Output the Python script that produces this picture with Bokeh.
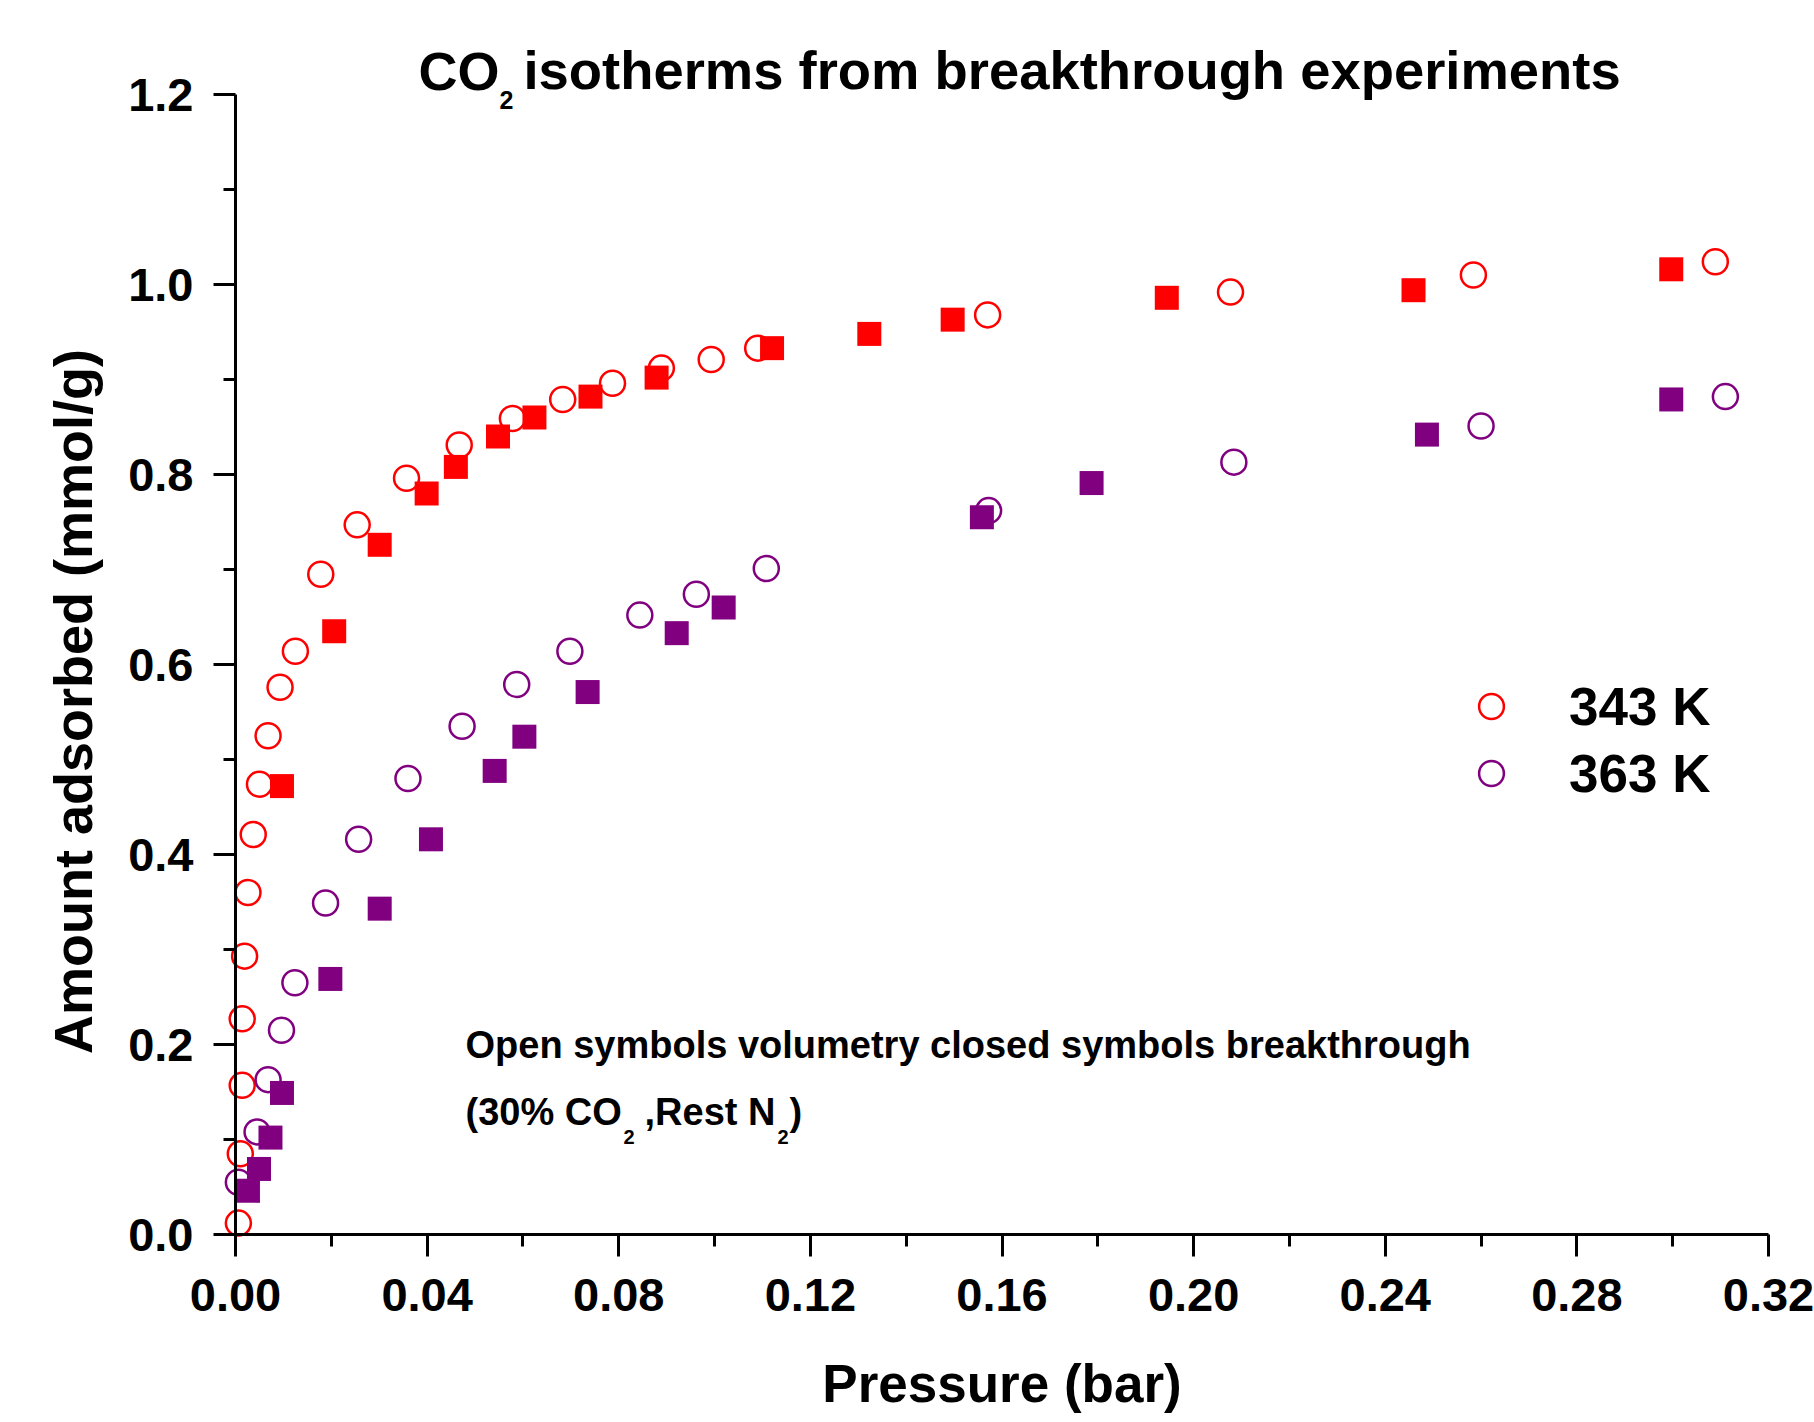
import numpy as np
from bokeh.plotting import figure
from bokeh.models import (Label, Legend, LegendItem, ColumnDataSource, Range1d,
                          FixedTicker, NumeralTickFormatter)
from bokeh.embed import file_html
from bokeh.resources import INLINE

# ---------------- data ----------------
# 343 K, open symbols: volumetry
p343_vol = [0.0006, 0.0010, 0.0014, 0.0014, 0.0019, 0.0026, 0.0037, 0.0050, 0.0068, 0.0093,
            0.0125, 0.0178, 0.0254, 0.0357, 0.0467, 0.0578, 0.0683, 0.0787, 0.0889, 0.0993,
            0.1090, 0.1570, 0.2077, 0.2584, 0.3089]
q343_vol = [0.012, 0.085, 0.157, 0.227, 0.293, 0.360, 0.421, 0.474, 0.525, 0.576,
            0.614, 0.695, 0.747, 0.796, 0.831, 0.859, 0.879, 0.896, 0.912, 0.921,
            0.933, 0.968, 0.992, 1.010, 1.024]
# 343 K, closed symbols: breakthrough
p343_bt = [0.0097, 0.0206, 0.0301, 0.0399, 0.0460, 0.0548, 0.0624, 0.0741, 0.0879, 0.1120,
           0.1323, 0.1497, 0.1944, 0.2459, 0.2997]
q343_bt = [0.472, 0.635, 0.726, 0.780, 0.808, 0.840, 0.860, 0.882, 0.902, 0.933,
           0.948, 0.963, 0.986, 0.994, 1.016]
# 363 K, open symbols: volumetry
p363_vol = [0.0006, 0.0045, 0.0068, 0.0096, 0.0124, 0.0188, 0.0257, 0.0360, 0.0473, 0.0587,
            0.0698, 0.0844, 0.0962, 0.1108, 0.1572, 0.2084, 0.2600, 0.3110]
q363_vol = [0.055, 0.108, 0.163, 0.215, 0.265, 0.349, 0.416, 0.480, 0.535, 0.579,
            0.614, 0.652, 0.674, 0.701, 0.762, 0.813, 0.851, 0.882]
# 363 K, closed symbols: breakthrough
p363_bt = [0.0026, 0.0049, 0.0073, 0.0097, 0.0198, 0.0301, 0.0408, 0.0541, 0.0603, 0.0735,
           0.0921, 0.1019, 0.1558, 0.1787, 0.2487, 0.2997]
q363_bt = [0.046, 0.069, 0.102, 0.149, 0.269, 0.343, 0.416, 0.488, 0.524, 0.571,
           0.633, 0.660, 0.755, 0.791, 0.842, 0.879]

series_labels = ["343 K", "363 K"]
x_ticks = [0.00, 0.04, 0.08, 0.12, 0.16, 0.20, 0.24, 0.28, 0.32]
x_minor = [0.02, 0.06, 0.10, 0.14, 0.18, 0.22, 0.26, 0.30]
y_ticks = [0.0, 0.2, 0.4, 0.6, 0.8, 1.0, 1.2]
y_minor = [0.1, 0.3, 0.5, 0.7, 0.9, 1.1]

# ---------------- layout ----------------
W, H = 1814, 1422
FL, FR, FT, FB = 235, 1768, 94, 1234      # pixel box of the axes area
XMAX, YMAX = 0.32, 1.2
RED = "#FF0000"
PURPLE = "#800080"
FONT = "Liberation Sans"


def dx(px):
    return (px - FL) / (FR - FL) * XMAX


def dy(py):
    return (FB - py) / (FB - FT) * YMAX


# the frame covers the whole canvas; axes are pinned at x=0 / y=0
p = figure(width=W, height=H, output_backend="svg", toolbar_location=None,
           x_range=Range1d(dx(0), dx(W)), y_range=Range1d(dy(H), dy(0)),
           min_border=0, min_border_left=0, min_border_right=0,
           min_border_top=0, min_border_bottom=0)
p.title.visible = False
p.outline_line_color = None
p.xgrid.visible = False
p.ygrid.visible = False
p.background_fill_color = "white"
p.border_fill_color = "white"

p.xaxis.ticker = FixedTicker(ticks=x_ticks, minor_ticks=x_minor)
p.yaxis.ticker = FixedTicker(ticks=y_ticks, minor_ticks=y_minor)
p.xaxis.formatter = NumeralTickFormatter(format="0.00")
p.yaxis.formatter = NumeralTickFormatter(format="0.0")
p.xaxis.fixed_location = 0
p.yaxis.fixed_location = 0
p.xaxis.bounds = (0, XMAX)
p.yaxis.bounds = (0, YMAX)

for ax in (p.xaxis[0], p.yaxis[0]):
    ax.axis_line_width = 3
    ax.axis_line_color = "black"
    ax.major_tick_line_width = 3
    ax.minor_tick_line_width = 3
    ax.major_tick_in = 0
    ax.major_tick_out = 22
    ax.minor_tick_in = 0
    ax.minor_tick_out = 12
    ax.major_label_text_font = FONT
    ax.major_label_text_font_style = "bold"
    ax.major_label_text_font_size = "47px"
    ax.major_label_text_color = "black"
p.xaxis[0].major_label_standoff = 22
p.yaxis[0].major_label_standoff = 20

# ---------------- glyphs ----------------
r343v = p.scatter("x", "y", source=ColumnDataSource(dict(x=p343_vol, y=q343_vol)),
                  marker="circle", size=25, fill_color=None, line_color=RED, line_width=2.5)
r363v = p.scatter("x", "y", source=ColumnDataSource(dict(x=p363_vol, y=q363_vol)),
                  marker="circle", size=25, fill_color=None, line_color=PURPLE, line_width=2.5)
r343b = p.scatter("x", "y", source=ColumnDataSource(dict(x=p343_bt, y=q343_bt)),
                  marker="square", size=24, fill_color=RED, line_color=None)
r363b = p.scatter("x", "y", source=ColumnDataSource(dict(x=p363_bt, y=q363_bt)),
                  marker="square", size=24, fill_color=PURPLE, line_color=None)

legend = Legend(items=[LegendItem(label=series_labels[0], renderers=[r343v]),
                       LegendItem(label=series_labels[1], renderers=[r363v])],
                location=(1460, 618), glyph_width=62, glyph_height=62,
                label_standoff=47, spacing=5, padding=0, margin=0,
                border_line_color=None, background_fill_alpha=0,
                label_text_font=FONT, label_text_font_style="bold",
                label_text_font_size="53px", label_text_color="black")
p.add_layout(legend)

MID = 0.35  # distance from alphabetic baseline to the 'middle' anchor, in em


def txt(px, base, s, size, angle=0.0, align="left"):
    """Place text so that its alphabetic baseline lies at pixel `base`."""
    if angle:
        x, y = dx(base - MID * size), dy(px)
    else:
        x, y = dx(px), dy(base - MID * size)
    p.add_layout(Label(x=x, y=y, text=s, text_font=FONT,
                       text_font_style="bold", text_font_size=f"{size}px",
                       text_color="black", text_baseline="middle",
                       text_align=align, angle=angle))


# title with subscript
txt(418, 89, "CO", 54)
txt(499, 108, "2", 25)
txt(523, 89, "isotherms from breakthrough experiments", 54.4)

# axis titles
txt(1001.5, 1402, "Pressure (bar)", 53, align="center")
txt(701, 91, "Amount adsorbed (mmol/g)", 54, angle=np.pi / 2, align="center")

# annotation
txt(465, 1058, "Open symbols volumetry closed symbols breakthrough", 38)
txt(465, 1125, "(30% CO", 38)
txt(623, 1143, "2", 20)
txt(644, 1125, ",Rest N", 38)
txt(777, 1143, "2", 20)
txt(789, 1125, ")", 38)

open("out.html", "w").write(file_html(p, INLINE))
